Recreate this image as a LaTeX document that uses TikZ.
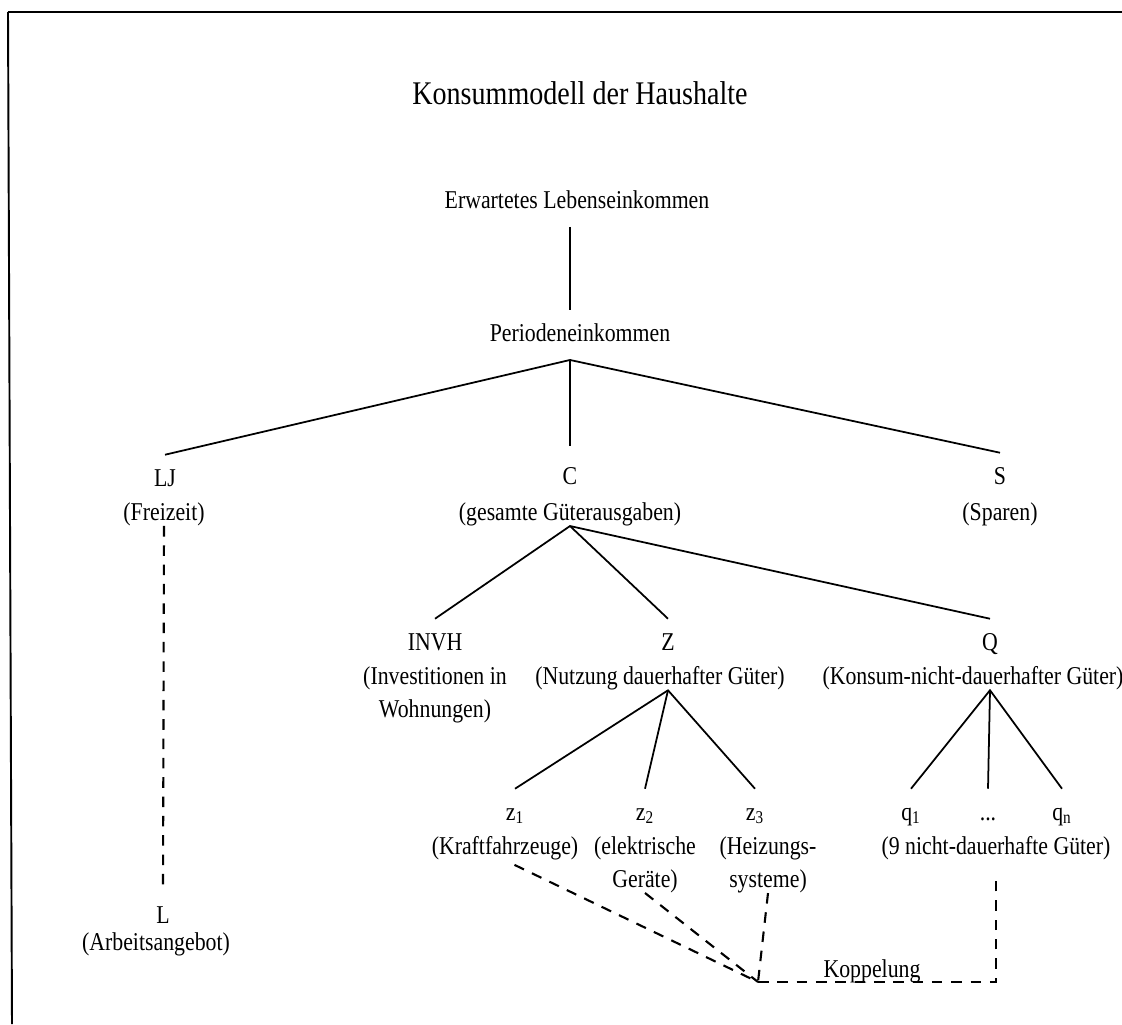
\documentclass[tikz,border=0pt]{standalone}
\usepackage{fontspec}
\setmainfont{Liberation Serif}[FakeStretch=0.85]

\begin{document}
\begin{tikzpicture}[x=0.02cm, y=-0.02cm,
        every node/.style={font=\fontsize{14.6}{18.8}\selectfont},
        head/.style={anchor=base, inner xsep=0pt, inner ysep=7.6pt, text height=10pt, text depth=3pt},
        desc/.style={anchor=north, align=center, inner sep=0pt},
        link/.style={line width=1pt},
        koppel/.style={line width=1.2pt, dash pattern=on 6pt off 5pt}]
        \useasboundingbox (0,0) rectangle (1122,1024);

        % Frame (top and left edge only)
        \draw[line width=1.5pt] (8,12) -- (1122,12);
        \draw[line width=1.1pt] (8,12) -- (12,1024);

        % Title
        \node[font=\fontsize{18.8}{22}\selectfont] (title) at (580,93) {Konsummodell der Haushalte};

        % Income
        \node[head] (erw) at (577,208) {Erwartetes Lebenseinkommen};
        \node[head] (per) at (580,341) {Periodeneinkommen};

        % First split
        \node[head] (lj) at (165,486) {LJ};
        \node[desc] (ljd) at (164,502) {(Freizeit)};
        \node[head] (c) at (570,484) {C};
        \node[desc] (cd) at (570,502) {(gesamte Güterausgaben)};
        \node[head] (s) at (1000,484) {S};
        \node[desc] (sd) at (1000,502) {(Sparen)};

        % Expenditure groups
        \node[head] (invh) at (435,650) {INVH};
        \node[desc] (invhd) at (435,666) {(Investitionen in\\Wohnungen)};
        \node[head] (z) at (668,650) {Z};
        \node[desc] (zd) at (660,666) {(Nutzung dauerhafter Güter)};
        \node[head] (q) at (990,650) {Q};
        \node[desc] (qd) at (973,666) {(Konsum-nicht-dauerhafter Güter)};

        % Single goods
        \node[head] (z1) at (515,820) {z\textsubscript{1}};
        \node[head] (z2) at (645,820) {z\textsubscript{2}};
        \node[head] (z3) at (755,820) {z\textsubscript{3}};
        \node[head] (q1) at (911,820) {q\textsubscript{1}};
        \node[head] (qdots) at (988,820) {...};
        \node[head] (qn) at (1062,820) {q\textsubscript{n}};
        \node[desc] (z1d) at (505,836) {(Kraftfahrzeuge)};
        \node[desc] (z2d) at (645,836) {(elektrische\\Geräte)};
        \node[desc] (z3d) at (768,836) {(Heizungs-\\systeme)};
        \node[desc] (qsd) at (996,836) {(9 nicht-dauerhafte Güter)};

        % Labour supply
        \node[head] (l) at (163,923) {L};
        \node[desc] (ld) at (156,932) {(Arbeitsangebot)};

        % Tree
        \draw[link] (erw.south -| c) -- (per.north -| c);
        \draw[link] (lj.north) -- (per.south -| c) -- (s.north);
        \draw[link] (per.south -| c) -- ([yshift=4pt]c.north);
        \draw[link] (invh.north) -- (cd.south) -- (q.north);
        \draw[link] (cd.south) -- (z.north);
        \draw[link] (z1.north) -- (zd.south -| z) -- (z3.north);
        \draw[link] (zd.south -| z) -- (z2.north);
        \draw[link] (q1.north) -- (qd.south -| q) -- (qn.north);
        \draw[link] (qd.south -| q) -- (qdots.north);

        % Coupling
        \coordinate (jn) at (758,982);
        \node[anchor=base] (kop) at (872,977) {Koppelung};
        \draw[koppel] (ljd.south) -- (l.north);
        \draw[koppel, shorten <=6pt] (z1d.south) -- (jn);
        \draw[koppel] (z2d.south) -- (jn);
        \draw[koppel] (z3d.south) -- (jn);
        \draw[koppel, shorten >=12pt] (jn) -| (qsd.south);
\end{tikzpicture}
\end{document}
